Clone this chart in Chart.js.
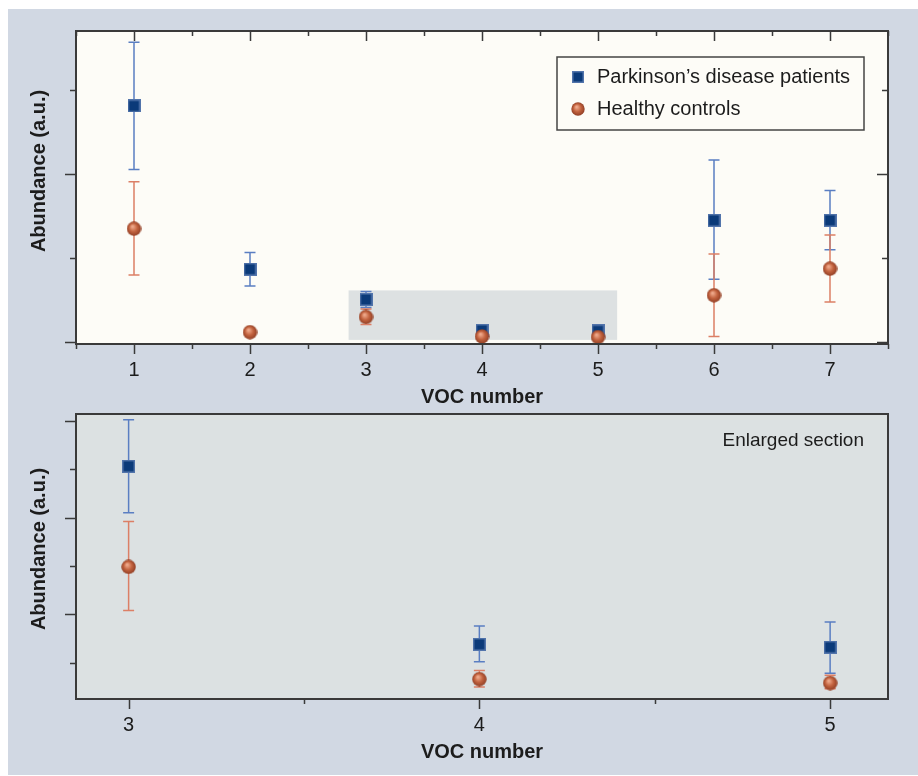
<!DOCTYPE html>
<html>
<head>
<meta charset="utf-8">
<script src="https://cdn.jsdelivr.net/npm/chart.js@4.4.1/dist/chart.umd.min.js"></script>
<style>
  body { margin: 0; background: #fff; }
  #panel { position: absolute; left: 8px; top: 9px; width: 910px; height: 766px; background: #d1d8e3; }
  #top { position: absolute; left: 0; top: 0; }
  #bottom { position: absolute; left: 0; top: 395px; }
</style>
</head>
<body>
<div id="panel">
  <canvas id="top" width="910" height="398"></canvas>
  <canvas id="bottom" width="910" height="371"></canvas>
</div>
<script>
// data (a.u.)
const vocNumbers = [1, 2, 3, 4, 5, 6, 7];
const xTickLabels = ['1', '2', '3', '4', '5', '6', '7'];
const pdMean = [1.405, 0.433, 0.253, 0.069, 0.066, 0.724, 0.724];
const pdLow  = [1.026, 0.333, 0.205, 0.051, 0.039, 0.373, 0.549];
const pdHigh = [1.784, 0.532, 0.301, 0.088, 0.092, 1.083, 0.901];
const hcMean = [0.674, 0.058, 0.149, 0.033, 0.029, 0.278, 0.436];
const hcLow  = [0.399, 0.050, 0.104, 0.025, 0.023, 0.032, 0.238];
const hcHigh = [0.954, 0.066, 0.196, 0.042, 0.037, 0.524, 0.637];

const seriesNames = ["Parkinson\u2019s disease patients", 'Healthy controls'];

// tick positions
const xTicksTop = [0.5, 1, 1.5, 2, 2.5, 3, 3.5, 4, 4.5, 5, 5.5, 6, 6.5, 7, 7.5];
const yTicksTop = [0, 0.5, 1, 1.5];
const yMajorTop = [0, 1];
const xTicksZoom = [3, 3.5, 4, 4.5, 5];
const yTicksZoom = [0.05, 0.1, 0.15, 0.2, 0.25, 0.3];
const yMajorZoom = [0.1, 0.2, 0.3];

// enlarged section range
const zoomX = [2.85, 5.165];
const zoomY = [0.0125, 0.307];

const FONT = '"Liberation Sans", Arial, Helvetica, sans-serif';
Chart.defaults.font.family = FONT;

// marker images
function squareImage(s) {
  const c = document.createElement('canvas');
  c.width = c.height = s;
  const g = c.getContext('2d');
  g.fillStyle = '#5274ab';
  g.fillRect(0, 0, s, s);
  g.fillStyle = '#0b3a79';
  g.fillRect(1.5, 1.5, s - 3, s - 3);
  return c;
}
function sphereImage(d) {
  const c = document.createElement('canvas');
  c.width = c.height = d;
  const g = c.getContext('2d');
  const r = d / 2;
  const grad = g.createRadialGradient(r * 0.8, r * 0.7, r * 0.1, r, r, r);
  grad.addColorStop(0, '#eea88a');
  grad.addColorStop(0.5, '#c2623e');
  grad.addColorStop(1, '#8e3d24');
  g.fillStyle = grad;
  g.beginPath();
  g.arc(r, r, r - 0.3, 0, Math.PI * 2);
  g.fill();
  return c;
}
const pdMarker = squareImage(13);
const hcMarker = sphereImage(15);
const pdLegendMarker = squareImage(12);
const hcLegendMarker = sphereImage(14);

function makeDatasets() {
  return [{
    label: seriesNames[0],
    data: vocNumbers.map((v, i) => ({ x: v, y: pdMean[i] })),
    errLow: pdLow, errHigh: pdHigh, errColor: '#5a7ec2',
    pointStyle: pdMarker, pointRadius: 7, order: 2
  }, {
    label: seriesNames[1],
    data: vocNumbers.map((v, i) => ({ x: v, y: hcMean[i] })),
    errLow: hcLow, errHigh: hcHigh, errColor: '#dc7f66',
    pointStyle: hcMarker, pointRadius: 7, order: 1
  }];
}

function drawTicks(ctx, chart, o) {
  const a = chart.chartArea, x = chart.scales.x, y = chart.scales.y;
  ctx.strokeStyle = '#3a3a3a';
  ctx.lineWidth = 1.5;
  ctx.beginPath();
  o.xTicks.forEach(v => {
    const px = Math.round(x.getPixelForValue(v)) + 0.5;
    const len = Number.isInteger(v) ? 10 : 5;
    ctx.moveTo(px, a.bottom); ctx.lineTo(px, a.bottom + len);
    if (o.mirror) { ctx.moveTo(px, a.top); ctx.lineTo(px, a.top + len); }
  });
  o.yTicks.forEach(v => {
    const py = Math.round(y.getPixelForValue(v)) + 0.5;
    const len = o.yMajor.includes(v) ? 11 : 6;
    ctx.moveTo(a.left - len, py); ctx.lineTo(a.left, py);
    if (o.mirror) { ctx.moveTo(a.right - len, py); ctx.lineTo(a.right, py); }
  });
  ctx.stroke();
}

const panelPlugin = {
  id: 'panel',
  beforeDraw(chart, args, o) {
    const { ctx, chartArea: a } = chart;
    const x = chart.scales.x, y = chart.scales.y;
    ctx.save();
    ctx.fillStyle = o.plotBg;
    ctx.fillRect(a.left, a.top, a.width, a.height);
    if (o.zoomBox) {
      const l = x.getPixelForValue(zoomX[0]), r = x.getPixelForValue(zoomX[1]);
      const t = y.getPixelForValue(zoomY[1]), b = y.getPixelForValue(zoomY[0]);
      ctx.fillStyle = '#dde1e2';
      ctx.fillRect(l, t, r - l, b - t);
    }
    ctx.restore();
  },
  beforeDatasetsDraw(chart) {
    const { ctx, chartArea: a } = chart;
    const x = chart.scales.x, y = chart.scales.y;
    ctx.save();
    ctx.beginPath();
    ctx.rect(a.left, a.top, a.width, a.height);
    ctx.clip();
    chart.data.datasets.forEach(ds => {
      ctx.strokeStyle = ds.errColor;
      ctx.lineWidth = 1.5;
      ctx.beginPath();
      vocNumbers.forEach((v, i) => {
        const px = x.getPixelForValue(v);
        const lo = y.getPixelForValue(ds.errLow[i]);
        const hi = y.getPixelForValue(ds.errHigh[i]);
        ctx.moveTo(px, lo); ctx.lineTo(px, hi);
        ctx.moveTo(px - 5.5, lo); ctx.lineTo(px + 5.5, lo);
        ctx.moveTo(px - 5.5, hi); ctx.lineTo(px + 5.5, hi);
      });
      ctx.stroke();
    });
    ctx.restore();
  },
  afterDraw(chart, args, o) {
    const { ctx, chartArea: a } = chart;
    ctx.save();
    // frame
    ctx.strokeStyle = '#3a3a3a';
    ctx.lineWidth = 2;
    ctx.strokeRect(a.left, a.top, a.width, a.height);
    drawTicks(ctx, chart, o);

    // axis titles
    ctx.fillStyle = '#1c1c1c';
    ctx.font = 'bold 20px ' + FONT;
    ctx.textAlign = 'center';
    ctx.textBaseline = 'middle';
    ctx.fillText('VOC number', (a.left + a.right) / 2, a.bottom + 53);
    ctx.save();
    ctx.translate(31, a.top + o.yTitleOffset);
    ctx.rotate(-Math.PI / 2);
    ctx.fillText('Abundance (a.u.)', 0, 0);
    ctx.restore();

    if (o.legend) {
      const bx = a.right - 331, by = a.top + 26, bw = 307, bh = 73;
      ctx.fillStyle = o.plotBg;
      ctx.fillRect(bx, by, bw, bh);
      ctx.strokeStyle = '#444';
      ctx.lineWidth = 1.5;
      ctx.strokeRect(bx, by, bw, bh);
      const markers = [pdLegendMarker, hcLegendMarker];
      ctx.font = '20px ' + FONT;
      ctx.textAlign = 'left';
      ctx.fillStyle = '#1c1c1c';
      seriesNames.forEach((name, i) => {
        const cy = by + 20 + i * 32;
        const m = markers[i];
        ctx.drawImage(m, bx + 21 - m.width / 2, cy - m.height / 2);
        ctx.fillText(name, bx + 40, cy);
      });
    }
    if (o.note) {
      ctx.font = '19px ' + FONT;
      ctx.textAlign = 'right';
      ctx.fillStyle = '#1c1c1c';
      ctx.fillText(o.note, a.right - 24, a.top + 27);
    }
    ctx.restore();
  }
};

function makeChart(id, opt) {
  return new Chart(document.getElementById(id), {
    type: 'scatter',
    data: { datasets: makeDatasets() },
    options: {
      responsive: false,
      animation: false,
      events: [],
      layout: { padding: opt.padding },
      scales: {
        x: {
          type: 'linear',
          min: opt.xRange[0], max: opt.xRange[1],
          grid: { display: false, drawTicks: false },
          border: { display: false },
          afterBuildTicks: s => { s.ticks = opt.xTicks.map(v => ({ value: v })); },
          afterFit: s => { s.height = 45; },
          ticks: {
            autoSkip: false,
            maxRotation: 0,
            padding: 14,
            color: '#1c1c1c',
            font: { size: 20 },
            callback: v => {
              const i = vocNumbers.indexOf(v);
              return i >= 0 ? xTickLabels[i] : '';
            }
          }
        },
        y: {
          type: 'linear',
          min: opt.yRange[0], max: opt.yRange[1],
          grid: { display: false, drawTicks: false },
          border: { display: false },
          ticks: { display: false },
          afterBuildTicks: s => { s.ticks = opt.yTicks.map(v => ({ value: v })); },
          afterFit: s => { s.width = 68; }
        }
      },
      plugins: {
        legend: { display: false },
        tooltip: { enabled: false },
        panel: {
          plotBg: opt.plotBg,
          xTicks: opt.xTicks,
          yTicks: opt.yTicks,
          yMajor: opt.yMajor,
          mirror: opt.mirror,
          zoomBox: opt.zoomBox,
          legend: opt.legend,
          note: opt.note,
          yTitleOffset: opt.yTitleOffset
        }
      }
    },
    plugins: [panelPlugin]
  });
}

makeChart('top', {
  padding: { left: 0, top: 22, right: 30, bottom: 18 },
  xRange: [0.5, 7.5], yRange: [-0.012, 1.851],
  xTicks: xTicksTop, yTicks: yTicksTop, yMajor: yMajorTop,
  plotBg: '#fdfcf7', mirror: true, zoomBox: true, legend: true,
  note: null, yTitleOffset: 140
});

makeChart('bottom', {
  padding: { left: 0, top: 10, right: 30, bottom: 31 },
  xRange: zoomX, yRange: zoomY,
  xTicks: xTicksZoom, yTicks: yTicksZoom, yMajor: yMajorZoom,
  plotBg: '#dce1e2', mirror: false, zoomBox: false, legend: false,
  note: 'Enlarged section', yTitleOffset: 135
});
</script>
</body>
</html>
